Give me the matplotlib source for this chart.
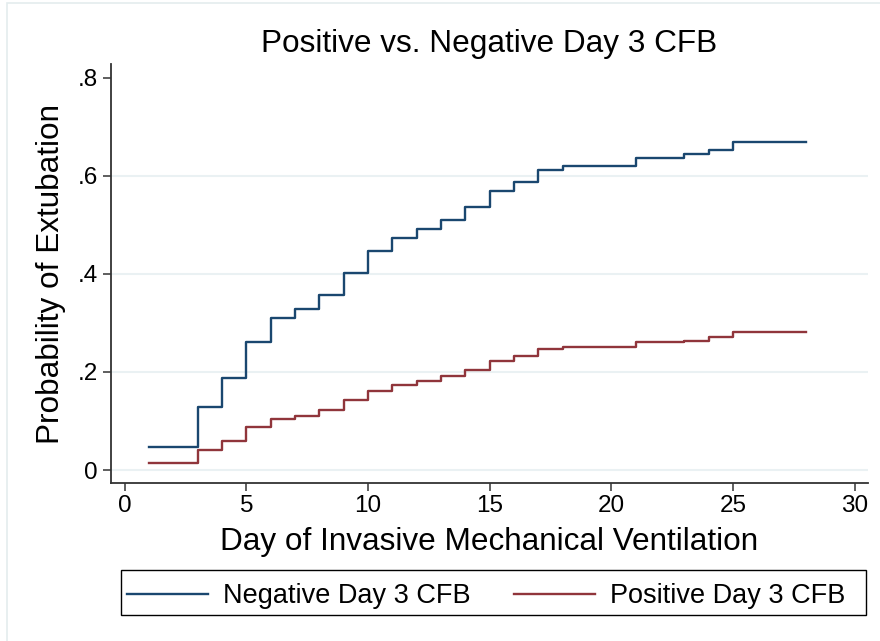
import numpy as np
import matplotlib
matplotlib.use("Agg")
import matplotlib.pyplot as plt
from matplotlib.patches import Rectangle

plt.rcParams['font.family'] = ['Liberation Sans', 'DejaVu Sans']

# step points (day, cumulative probability of extubation)
days = [1, 3, 4, 5, 6, 7, 8, 9, 10, 11, 12, 13, 14, 15, 16, 17, 18, 21, 23, 24, 25, 28]
neg_cfb = [0.046, 0.129, 0.188, 0.262, 0.310, 0.328, 0.356, 0.401, 0.446, 0.473, 0.491,
           0.509, 0.536, 0.569, 0.587, 0.611, 0.620, 0.637, 0.645, 0.652, 0.669, 0.669]
pos_cfb = [0.014, 0.040, 0.060, 0.087, 0.105, 0.111, 0.123, 0.142, 0.161, 0.174, 0.182,
           0.191, 0.204, 0.222, 0.232, 0.246, 0.250, 0.261, 0.264, 0.271, 0.281, 0.281]

xticks = [0, 5, 10, 15, 20, 25, 30]
yticks = [0, 0.2, 0.4, 0.6, 0.8]
ytick_labels = ['0', '.2', '.4', '.6', '.8']

navy = '#1a476f'
maroon = '#90353b'
W, H = 880, 641

fig = plt.figure(figsize=(8.8, 6.41), dpi=100)
ax = fig.add_axes([111/W, 1 - 483/H, (868 - 111)/W, (483 - 64)/H])

ax.step(days, neg_cfb, where='post', color=navy, lw=1.7, label='Negative Day 3 CFB')
ax.step(days, pos_cfb, where='post', color=maroon, lw=1.7, label='Positive Day 3 CFB')

ax.set_xlim(-0.56, 30.55)
ax.set_ylim(-0.0265, 0.828)
ax.set_xticks(xticks)
ax.set_yticks(yticks)
ax.set_yticklabels(ytick_labels)

for g in [0, 0.2, 0.4, 0.6]:
    ax.axhline(g, color='#eaf1f3', lw=1.5, zorder=0)

for s in ['top', 'right']:
    ax.spines[s].set_visible(False)
for s in ['left', 'bottom']:
    ax.spines[s].set_color('#333333')
    ax.spines[s].set_linewidth(1.3)

ax.tick_params(axis='both', direction='out', length=6, width=1.1, color='#333333',
               labelsize=17.5, labelcolor='black')
ax.tick_params(axis='y', pad=3.5)
ax.tick_params(axis='x', pad=2.5)

ax.set_title('Positive vs. Negative Day 3 CFB', fontsize=22.7, pad=8.6)
fig.text(489.5/W, 1 - 550/H, 'Day of Invasive Mechanical Ventilation', fontsize=22.7,
         ha='center', va='baseline')
ax.set_ylabel('Probability of Extubation', fontsize=22.7, labelpad=8)

leg = fig.legend(loc='center left', bbox_to_anchor=(119/W, 1 - 596/H), ncol=2,
                 fontsize=19.5, frameon=False, handlelength=3.0, handletextpad=0.55,
                 columnspacing=1.6, borderaxespad=0, borderpad=0.3)

fig.patches.append(Rectangle((121/W, 1 - 615/H), 745/W, 45/H, transform=fig.transFigure,
                             fill=False, edgecolor='black', lw=1.0))

# light outer frame around graph region
fig.patches.append(Rectangle((7/W, -0.1), 1.2, 1 - 3/H + 0.1, transform=fig.transFigure,
                             fill=False, edgecolor='#e4ecee', lw=1.2))

fig.savefig('out.png', dpi=100)
